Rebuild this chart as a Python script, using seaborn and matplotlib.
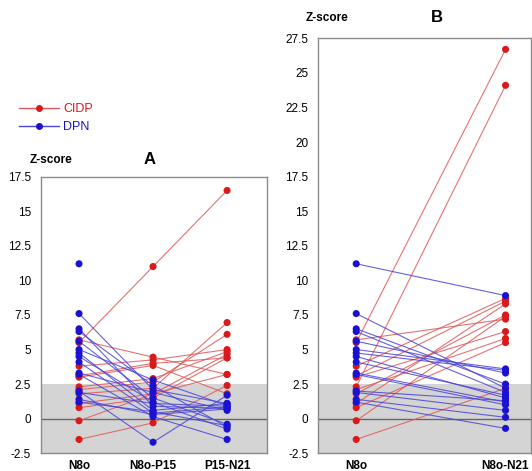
import numpy as np
import pandas as pd
import matplotlib
matplotlib.use('Agg')
import matplotlib.pyplot as plt
from matplotlib.lines import Line2D
from matplotlib.ticker import FuncFormatter
import seaborn as sns

# CIDP patients (red)
cidp_n8o = [5.7, 5.5, 3.8, 3.1, 3.0, 2.3, 2.1, 1.8, 1.1, 0.8, -0.15, -1.5]
cidp_n8o_p15 = [4.45, 11.0, 4.25, 4.0, 3.85, 2.9, 2.65, 2.2, 1.8, 1.5, 1.8, -0.3]
cidp_p15_n21 = [3.2, 16.5, 5.0, 4.4, 1.8, 4.85, 6.1, 6.95, 4.65, 4.4, 3.2, 2.4]
cidp_n8o_n21 = [7.2, 26.7, 8.7, 8.5, 6.3, 24.1, 5.8, 7.5, 8.3, 5.5, 7.4, 2.2]

# DPN patients (blue)
dpn_n8o = [11.2, 7.6, 6.5, 6.3, 5.6, 5.0, 4.75, 4.5, 4.1, 3.3, 3.2, 2.0, 1.9, 1.4, 1.2]
dpn_n8o_p15 = [np.nan, 2.1, 0.9, 2.4, 1.5, 2.8, 0.6, 1.2, 0.4, 1.9, 0.15, -1.7, 1.1, 0.3, 0.5]
dpn_p15_n21 = [np.nan, 1.1, 0.75, -0.6, -0.4, 0.95, 1.1, -0.75, 0.85, 0.6, -1.5, 1.7, 0.9, 0.7, -0.5]
dpn_n8o_n21 = [8.9, 2.2, 2.5, 1.9, 3.3, 3.6, 3.5, 1.5, 1.7, 1.2, 1.0, 1.3, 0.6, 0.1, -0.7]

labels_a = ['N8o', 'N8o-P15', 'P15-N21']
labels_b = ['N8o', 'N8o-N21']

point_col = {'CIDP': '#d91a1a', 'DPN': '#1a12d0'}
line_col = {'CIDP': '#e05a5a', 'DPN': '#4a46d8'}

plt.rcParams['font.family'] = ['Liberation Sans', 'DejaVu Sans']


def long_table(groups, columns):
    rows = []
    for grp, series in groups.items():
        for i in range(len(series[0])):
            for pos, vals in enumerate(series):
                rows.append({'group': grp, 'subject': f'{grp}{i}',
                             'pos': pos, 'z': vals[i]})
    return pd.DataFrame(rows).dropna()


data_a = long_table({'CIDP': [cidp_n8o, cidp_n8o_p15, cidp_p15_n21],
                     'DPN': [dpn_n8o, dpn_n8o_p15, dpn_p15_n21]}, labels_a)
data_b = long_table({'CIDP': [cidp_n8o, cidp_n8o_n21],
                     'DPN': [dpn_n8o, dpn_n8o_n21]}, labels_b)

fig = plt.figure(figsize=(5.32, 4.71), dpi=100)
ax_a = fig.add_axes([0.077, 0.0376, 0.425, 0.5874])
ax_b = fig.add_axes([0.598, 0.0376, 0.400, 0.8811])


def draw_panel(ax, data, labels, ymax, xlim, title):
    ax.axhspan(-2.5, 2.5, color='#d4d4d4', zorder=0, lw=0)
    ax.axhline(0, color='#666666', lw=1, zorder=1)
    sns.lineplot(data=data, x='pos', y='z', hue='group', units='subject',
                 estimator=None, palette=line_col, lw=0.8, alpha=0.85,
                 legend=False, ax=ax, zorder=2)
    sns.scatterplot(data=data, x='pos', y='z', hue='group', palette=point_col,
                    s=26, linewidth=0, legend=False, ax=ax, zorder=3)
    ax.set_ylim(-2.5, ymax)
    ax.set_xlim(*xlim)
    ax.set_yticks(np.arange(-2.5, ymax + 0.1, 2.5))
    ax.yaxis.set_major_formatter(FuncFormatter(lambda v, p: f'{v:g}'))
    ax.set_xticks(range(len(labels)))
    ax.set_xticklabels(labels, fontweight='bold', fontsize=9)
    ax.tick_params(axis='both', length=0, labelsize=8.5, pad=7)
    ax.tick_params(axis='x', pad=5)
    ax.set_xlabel('')
    ax.set_ylabel('')
    for sp in ax.spines.values():
        sp.set_color('#8a8a8a')
        sp.set_linewidth(1)
    ax.set_facecolor('white')


draw_panel(ax_a, data_a, labels_a, 17.5, (-0.514, 2.54), 'A')
draw_panel(ax_b, data_b, labels_b, 27.5, (-0.255, 1.17), 'B')

fig.text(30 / 532, 1 - 160 / 471, 'Z-score', fontweight='bold', fontsize=8.5,
         va='center', ha='left')
fig.text(150 / 532, 1 - 160 / 471, 'A', fontweight='bold', fontsize=12,
         va='center', ha='center')
fig.text(306 / 532, 1 - 18 / 471, 'Z-score', fontweight='bold', fontsize=8.5,
         va='center', ha='left')
fig.text(437 / 532, 1 - 18 / 471, 'B', fontweight='bold', fontsize=12,
         va='center', ha='center')

handles = [Line2D([], [], color=line_col['CIDP'], lw=1, marker='o', ms=4,
                  mfc=point_col['CIDP'], mec=point_col['CIDP']),
           Line2D([], [], color=line_col['DPN'], lw=1, marker='o', ms=4,
                  mfc=point_col['DPN'], mec=point_col['DPN'])]
leg = fig.legend(handles, ['CIDP', 'DPN'], loc='upper left',
                 bbox_to_anchor=(8 / 532, 1 - 92 / 471), frameon=False,
                 fontsize=9, handlelength=3.2, handletextpad=0.3,
                 labelspacing=0.45)
for txt, grp in zip(leg.get_texts(), ['CIDP', 'DPN']):
    txt.set_color(point_col[grp])

fig.savefig('out.png', dpi=100)
